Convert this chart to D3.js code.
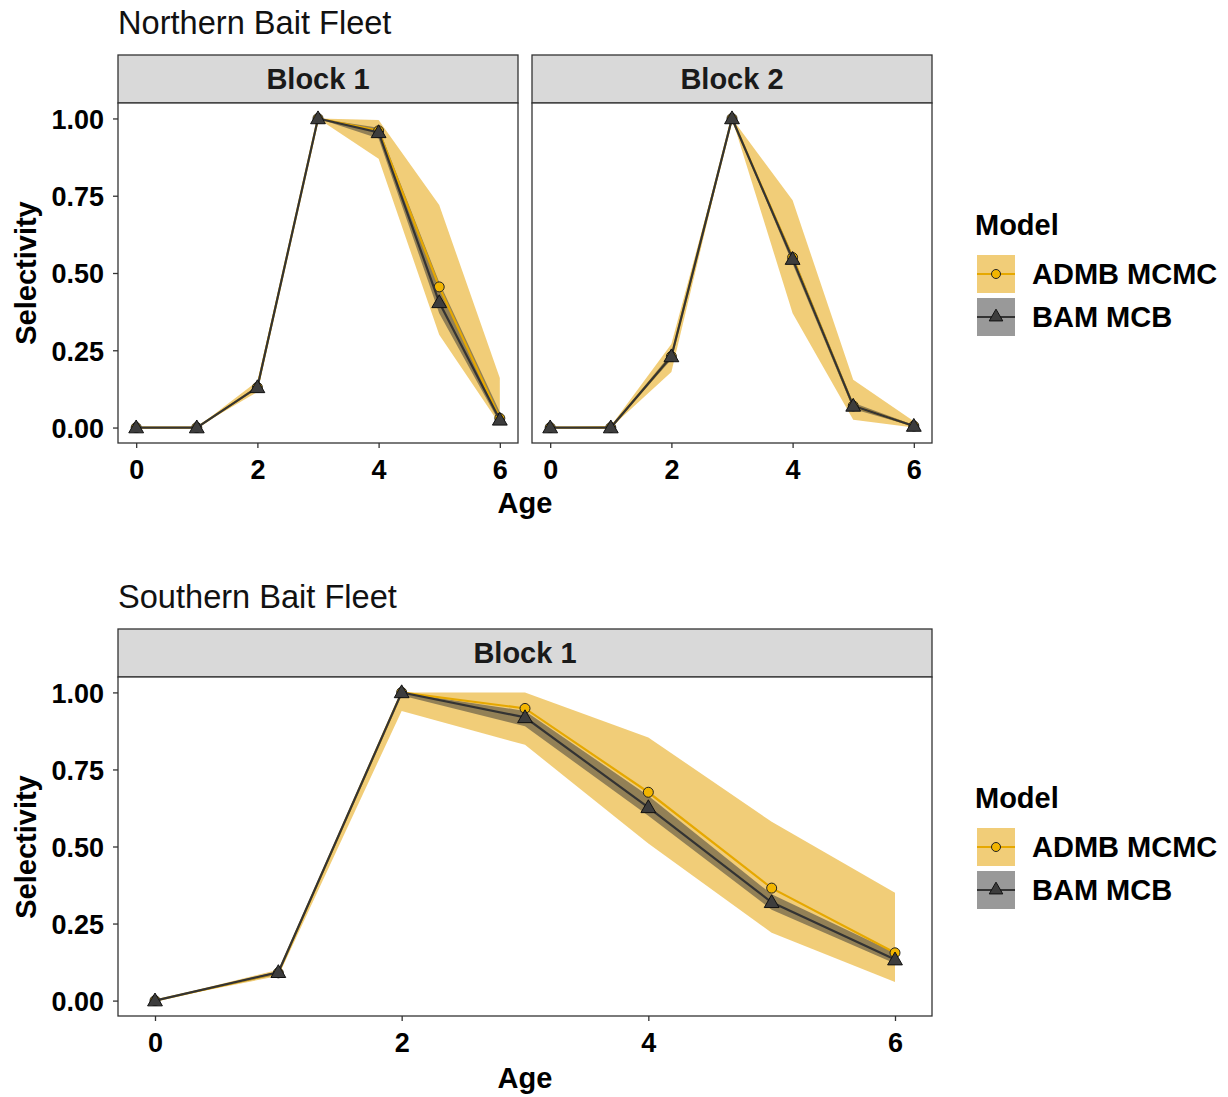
<!DOCTYPE html>
<html><head><meta charset="utf-8">
<script src="https://cdn.jsdelivr.net/npm/d3@7"></script>
<style>
body{margin:0;background:#fff;}
text{font-family:"Liberation Sans",Arial,sans-serif;}
</style></head>
<body>
<svg id="chart" width="1228" height="1097"></svg>
<script>
// ---- data ----
const ages = [0, 1, 2, 3, 4, 5, 6];
const yTicks = [0, 0.25, 0.5, 0.75, 1];
const yTickLabels = ["0.00", "0.25", "0.50", "0.75", "1.00"];
const xTicks = [0, 2, 4, 6];
const models = ["ADMB MCMC", "BAM MCB"];

// Northern Bait Fleet, Block 1
const nb1_admb    = [0, 0, 0.13, 1.0, 0.96, 0.455, 0.03];
const nb1_admb_lo = [0, 0, 0.115, 1.0, 0.87, 0.30, 0.01];
const nb1_admb_hi = [0, 0, 0.15, 1.0, 0.995, 0.72, 0.16];
const nb1_bam     = [0, 0, 0.13, 1.0, 0.955, 0.405, 0.025];
const nb1_bam_lo  = [0, 0, 0.125, 1.0, 0.935, 0.37, 0.015];
const nb1_bam_hi  = [0, 0, 0.135, 1.0, 0.97, 0.47, 0.05];

// Northern Bait Fleet, Block 2
const nb2_admb    = [0, 0, 0.23, 1.0, 0.55, 0.07, 0.005];
const nb2_admb_lo = [0, 0, 0.18, 1.0, 0.37, 0.025, 0.0];
const nb2_admb_hi = [0, 0.005, 0.27, 1.0, 0.735, 0.155, 0.02];
const nb2_bam     = [0, 0, 0.23, 1.0, 0.545, 0.07, 0.005];
const nb2_bam_lo  = [0, 0, 0.22, 1.0, 0.53, 0.06, 0.003];
const nb2_bam_hi  = [0, 0, 0.24, 1.0, 0.56, 0.08, 0.008];

// Southern Bait Fleet, Block 1
const sb1_admb    = [0, 0.09, 1.0, 0.948, 0.676, 0.365, 0.155];
const sb1_admb_lo = [0, 0.08, 0.94, 0.83, 0.51, 0.22, 0.06];
const sb1_admb_hi = [0, 0.10, 1.0, 1.0, 0.854, 0.58, 0.35];
const sb1_bam     = [0, 0.092, 1.0, 0.919, 0.627, 0.319, 0.133];
const sb1_bam_lo  = [0, 0.085, 0.99, 0.89, 0.60, 0.295, 0.12];
const sb1_bam_hi  = [0, 0.095, 1.0, 0.94, 0.665, 0.345, 0.155];

// ---- styles ----
const COL_ADMB = "#E6A800";
const COL_ADMB_RIB = "rgb(232,172,30)";
const COL_BAM = "#333333";
const svg = d3.select("#chart");

function series(vals, lo, hi) {
  return ages.map((a, i) => ({age: a, v: vals[i], lo: lo[i], hi: hi[i]}));
}

function drawPanel(x0, y0, w, h, stripTop, label, admb, bam, yAxis) {
  const x = d3.scaleLinear().domain([-0.3, 6.3]).range([x0, x0 + w]);
  const y = d3.scaleLinear().domain([-0.05, 1.05]).range([y0 + h, y0]);
  const g = svg.append("g");
  // strip
  g.append("rect").attr("x", x0).attr("y", stripTop).attr("width", w).attr("height", y0 - stripTop)
    .attr("fill", "#d9d9d9").attr("stroke", "#333").attr("stroke-width", 1.3);
  g.append("text").attr("x", x0 + w / 2).attr("y", (stripTop + y0) / 2 + 10)
    .attr("text-anchor", "middle").attr("font-weight", "bold").attr("font-size", 29).attr("fill", "#1a1a1a").text(label);
  // panel bg
  g.append("rect").attr("x", x0).attr("y", y0).attr("width", w).attr("height", h).attr("fill", "#fff");

  const area = d3.area().x(d => x(d.age)).y0(d => y(d.lo)).y1(d => y(d.hi));
  const line = d3.line().x(d => x(d.age)).y(d => y(d.v));
  g.append("path").datum(admb).attr("d", area).attr("fill", COL_ADMB_RIB).attr("fill-opacity", 0.6);
  g.append("path").datum(bam).attr("d", area).attr("fill", "#333").attr("fill-opacity", 0.5);
  g.append("path").datum(admb).attr("d", line).attr("fill", "none").attr("stroke", COL_ADMB).attr("stroke-width", 2.2);
  g.selectAll(".c").data(admb).enter().append("circle")
    .attr("cx", d => x(d.age)).attr("cy", d => y(d.v)).attr("r", 5)
    .attr("fill", "#F2B500").attr("stroke", "#222").attr("stroke-width", 1);
  g.append("path").datum(bam).attr("d", line).attr("fill", "none").attr("stroke", COL_BAM).attr("stroke-width", 2.2);
  const tri = d3.symbol().type(d3.symbolTriangle).size(95);
  g.selectAll(".t").data(bam).enter().append("path")
    .attr("d", tri).attr("transform", d => `translate(${x(d.age)},${y(d.v) + 1})`)
    .attr("fill", "#3d3d3d").attr("stroke", "#111").attr("stroke-width", 1);

  // border
  g.append("rect").attr("x", x0).attr("y", y0).attr("width", w).attr("height", h)
    .attr("fill", "none").attr("stroke", "#333").attr("stroke-width", 1.3);

  // axes
  const xa = g.append("g").attr("transform", `translate(0,${y0 + h})`)
    .call(d3.axisBottom(x).tickValues(xTicks).tickSize(5).tickPadding(5).tickFormat(d3.format("d")));
  xa.select(".domain").remove();
  xa.selectAll("line").attr("stroke", "#333").attr("stroke-width", 1.3);
  xa.selectAll("text").attr("font-size", 27).attr("font-weight", "bold").attr("fill", "#000")
    .attr("font-family", "Liberation Sans, Arial, sans-serif").attr("dy", "0.95em");
  if (yAxis) {
    const ya = g.append("g").attr("transform", `translate(${x0},0)`)
      .call(d3.axisLeft(y).tickValues(yTicks).tickSize(5).tickPadding(9).tickFormat((d, i) => yTickLabels[i]));
    ya.select(".domain").remove();
    ya.selectAll("line").attr("stroke", "#333").attr("stroke-width", 1.3);
    ya.selectAll("text").attr("font-size", 27).attr("font-weight", "bold").attr("fill", "#000")
      .attr("font-family", "Liberation Sans, Arial, sans-serif").attr("dy", "0.36em");
  }
}

function drawLegend(x0, titleBase, keyTop) {
  const g = svg.append("g");
  g.append("text").attr("x", x0).attr("y", titleBase).attr("font-size", 29).attr("font-weight", "bold").text("Model");
  const kx = x0 + 2, ks = 38, gap = 5;
  models.forEach((m, i) => {
    const ky = keyTop + i * (ks + gap);
    g.append("rect").attr("x", kx).attr("y", ky).attr("width", ks).attr("height", ks)
      .attr("fill", i === 0 ? COL_ADMB_RIB : "#333").attr("fill-opacity", i === 0 ? 0.6 : 0.5);
    g.append("line").attr("x1", kx).attr("x2", kx + ks).attr("y1", ky + ks / 2).attr("y2", ky + ks / 2)
      .attr("stroke", i === 0 ? COL_ADMB : COL_BAM).attr("stroke-width", 2);
    if (i === 0) {
      g.append("circle").attr("cx", kx + ks / 2).attr("cy", ky + ks / 2).attr("r", 4.5)
        .attr("fill", "#F2B500").attr("stroke", "#222").attr("stroke-width", 1);
    } else {
      g.append("path").attr("d", d3.symbol().type(d3.symbolTriangle).size(80))
        .attr("transform", `translate(${kx + ks / 2},${ky + ks / 2})`)
        .attr("fill", "#3d3d3d").attr("stroke", "#111").attr("stroke-width", 1);
    }
    g.append("text").attr("x", x0 + 57).attr("y", ky + ks / 2 + 10).attr("font-size", 29)
      .attr("font-weight", "bold").attr("fill", "#000").text(m);
  });
}

// titles
svg.append("text").attr("x", 118).attr("y", 34).attr("font-size", 32.6).attr("fill", "#111").text("Northern Bait Fleet");
svg.append("text").attr("x", 118).attr("y", 608).attr("font-size", 32.6).attr("fill", "#111").text("Southern Bait Fleet");

// panels
drawPanel(118, 103, 400, 340, 55, "Block 1", series(nb1_admb, nb1_admb_lo, nb1_admb_hi), series(nb1_bam, nb1_bam_lo, nb1_bam_hi), true);
drawPanel(532, 103, 400, 340, 55, "Block 2", series(nb2_admb, nb2_admb_lo, nb2_admb_hi), series(nb2_bam, nb2_bam_lo, nb2_bam_hi), false);
drawPanel(118, 677, 814, 339, 629, "Block 1", series(sb1_admb, sb1_admb_lo, sb1_admb_hi), series(sb1_bam, sb1_bam_lo, sb1_bam_hi), true);

// axis titles
svg.append("text").attr("x", 525).attr("y", 513).attr("text-anchor", "middle").attr("font-size", 29).attr("font-weight", "bold").text("Age");
svg.append("text").attr("x", 525).attr("y", 1088).attr("text-anchor", "middle").attr("font-size", 29).attr("font-weight", "bold").text("Age");
svg.append("text").attr("transform", "translate(36,273) rotate(-90)").attr("text-anchor", "middle").attr("font-size", 29).attr("font-weight", "bold").text("Selectivity");
svg.append("text").attr("transform", "translate(36,847) rotate(-90)").attr("text-anchor", "middle").attr("font-size", 29).attr("font-weight", "bold").text("Selectivity");

// legends
drawLegend(975, 235, 255);
drawLegend(975, 808, 828);
</script>
</body></html>
